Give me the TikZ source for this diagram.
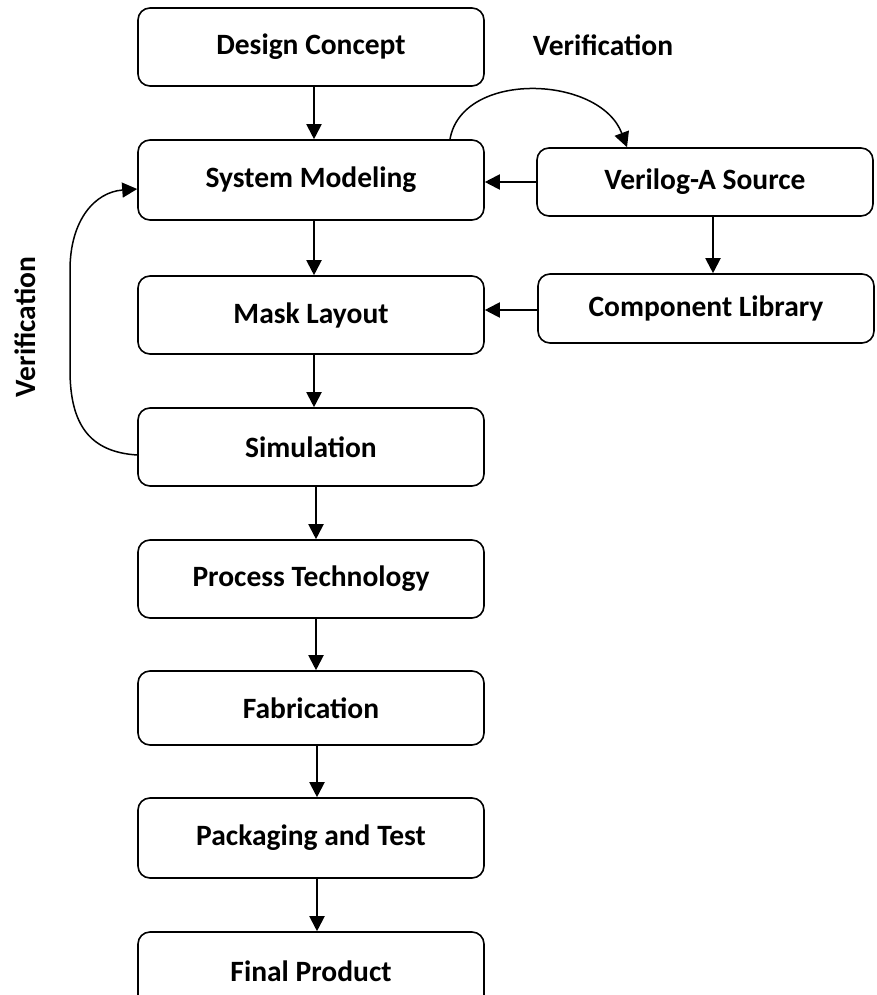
\documentclass[tikz,border=0pt]{standalone}
\usepackage{fontspec}
\setmainfont{Carlito}
\usetikzlibrary{arrows.meta,calc}
\begin{document}
\begin{tikzpicture}[x=1pt,y=-1pt,
  box/.style={draw,line width=1.6pt,rounded corners=12pt,inner sep=0pt,
    font=\fontsize{29.5}{35}\selectfont\bfseries},
  flow/.style={line width=2pt,-{Triangle[length=15pt,width=15pt]}},
  loop/.style={line width=1.5pt,-{Triangle[length=15pt,width=15pt]}},
  lbl/.style={font=\fontsize{29.5}{35}\selectfont\bfseries,inner sep=0pt}]
\useasboundingbox (0,0) rectangle (876,995);
\begin{scope}
\clip (0,0) rectangle (876,995);
\node[box,minimum width=346pt,minimum height=78pt] (dc) at (311,47) {Design Concept};
\node[box,minimum width=346pt,minimum height=80pt] (sm) at (311,180) {System Modeling};
\node[box,minimum width=346pt,minimum height=78pt] (ml) at (311,315) {Mask Layout};
\node[box,minimum width=346pt,minimum height=78pt] (sim) at (311,447) {Simulation};
\node[box,minimum width=346pt,minimum height=78pt] (pt) at (311,579) {Process Technology};
\node[box,minimum width=346pt,minimum height=74pt] (fab) at (311,708) {Fabrication};
\node[box,minimum width=346pt,minimum height=80pt] (pat) at (311,838) {Packaging and Test};
\node[box,minimum width=346pt,minimum height=78pt] (fp) at (311,971) {Final Product};
\node[box,minimum width=336pt,minimum height=68pt] (va) at (705,182) {Verilog-A Source};
\node[box,minimum width=336pt,minimum height=69pt] (cl) at (706,308.5) {Component Library};
\end{scope}
\node[lbl] (v1) at (603,45) {Verification};
\node[lbl,rotate=90] (v2) at (25,327) {Verification};

\draw[flow] ($(dc.south)+(3,0)$) -- ($(sm.north)+(3,0)$);
\draw[flow] ($(sm.south)+(3,0)$) -- ($(ml.north)+(3,0)$);
\draw[flow] ($(ml.south)+(3,0)$) -- ($(sim.north)+(3,0)$);
\draw[flow] ($(sim.south)+(5,0)$) -- ($(pt.north)+(5,0)$);
\draw[flow] ($(pt.south)+(5,0)$) -- ($(fab.north)+(5,0)$);
\draw[flow] ($(fab.south)+(6,0)$) -- ($(pat.north)+(6,0)$);
\draw[flow] ($(pat.south)+(6,0)$) -- ($(fp.north)+(6,0)$);
\draw[flow] (va.west) -- (sm.east |- va.west);
\draw[flow] ($(va.south)+(8,0)$) -- ($(cl.north)+(7,0)$);
\draw[flow] ($(cl.west)+(0,1.5)$) -- ($(ml.east |- cl.west)+(0,1.5)$);

\coordinate (ts) at ($(sm.north)+(139,0)$);
\coordinate (te) at ($(va.north)+(-78,0)$);
\draw[loop] (ts) .. controls (462,70) and (600,75) .. (te);

\coordinate (ls) at ($(sim.west)+(0,8)$);
\coordinate (le) at ($(sm.west)+(0,9)$);
\draw[loop] (ls) .. controls (90,452) and (70,425) .. (70,370) -- (70,270)
  .. controls (70,220) and (95,192) .. (le);
\end{tikzpicture}
\end{document}
